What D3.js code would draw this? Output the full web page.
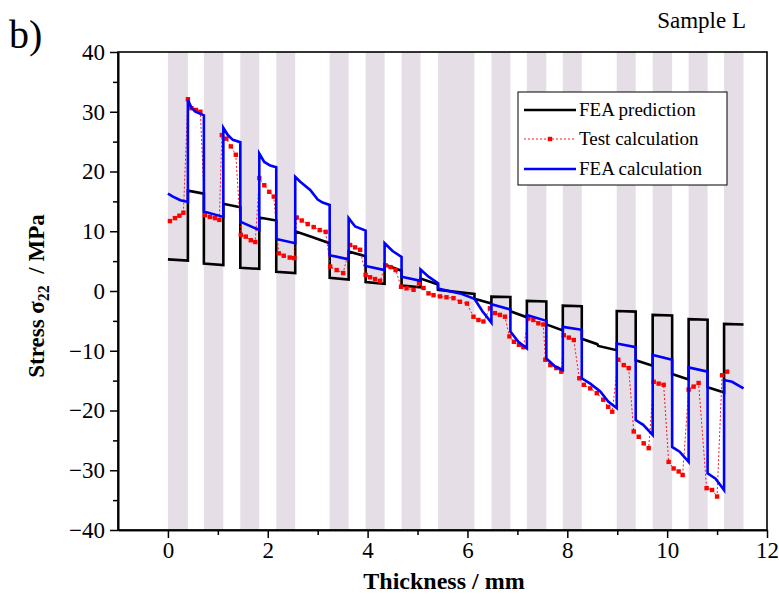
<!DOCTYPE html>
<html><head><meta charset="utf-8">
<script src="https://cdn.jsdelivr.net/npm/d3@7"></script>
<style>
body{margin:0;background:#fff}
svg{display:block}
text{font-family:"Liberation Serif","Times New Roman",serif;fill:#000}
</style>
</head><body>
<svg id="chart" width="779" height="606"></svg>
<script>
// ---- data ----
const bandStart = [0, 0.72, 1.45, 2.17, 3.24, 3.96, 4.68, 5.41, 6.48, 7.19, 7.91, 8.99, 9.71, 10.43, 11.14];
const bandEnd   = [0.40, 1.11, 1.83, 2.55, 3.62, 4.34, 5.06, 6.14, 6.86, 7.58, 8.29, 9.37, 10.10, 10.81, 11.53];

const xTicks = [0, 2, 4, 6, 8, 10, 12];
const xMinorTicks = [1, 3, 5, 7, 9, 11];
const yTicks = [-40, -30, -20, -10, 0, 10, 20, 30, 40];
const yMinorTicks = [-35, -25, -15, -5, 5, 15, 25, 35];

const seriesNames = ["FEA prediction", "Test calculation", "FEA calculation"];

// FEA prediction (black)
const predX = [0,0.40,0.40,0.72,0.72,1.11,1.11,1.45,1.45,1.83,1.83,2.17,2.17,2.55,2.55,2.9,3.24,3.24,3.62,3.62,3.96,3.96,4.34,4.34,4.68,4.68,5.06,5.06,5.41,5.41,6.14,6.14,6.48,6.48,6.86,6.86,7.19,7.19,7.58,7.58,7.91,7.91,8.29,8.29,8.6,8.62,8.99,8.99,9.37,9.37,9.71,9.71,10.10,10.10,10.43,10.43,10.81,10.81,11.14,11.14,11.53];
const predY = [5.3,5.1,16.8,16.3,4.6,4.35,14.6,14.0,3.9,3.7,12.3,11.8,3.2,3.0,10.0,9.0,8.0,2.2,1.9,6.6,5.8,1.5,1.2,4.4,3.4,0.9,0.6,2.1,1.1,0.2,-0.5,-1.3,-2.1,-0.95,-1.0,-3.4,-4.4,-1.65,-1.75,-5.6,-6.6,-2.45,-2.55,-8.0,-8.9,-9.2,-9.9,-3.35,-3.45,-11.6,-12.5,-4.0,-4.1,-13.9,-14.8,-4.7,-4.8,-16.1,-17.0,-5.5,-5.6];

// Test calculation (red, markers)
const testX = [0.04,0.14,0.23,0.31, 0.40,0.47,0.56,0.65, 0.74,0.84,0.94,1.03, 1.08,1.17,1.26,1.36, 1.46,1.56,1.66,1.75, 1.83,1.93,2.03,2.12, 2.22,2.32,2.44,2.53, 2.58,2.68,2.80,2.92,3.04,3.16, 3.25,3.38,3.51, 3.65,3.75,3.85, 3.96,4.05,4.15,4.25, 4.36,4.46,4.56, 4.67,4.78,4.92, 5.03,5.12,5.22,5.32, 5.45,5.58,5.72,5.85,5.99, 6.12,6.22,6.32, 6.45,6.55,6.65,6.75, 6.84,6.93,7.03,7.12, 7.22,7.32,7.42,7.52, 7.56,7.66,7.78,7.88, 7.93,8.03,8.13, 8.24,8.33,8.46,8.59,8.72,8.82,8.90, 9.02,9.13,9.23, 9.33,9.43,9.53,9.63, 9.73,9.83,9.93, 10.03,10.13,10.23,10.31, 10.43,10.53,10.63, 10.79,10.90,11.00, 11.10,11.20];
const testY = [11.7,12.2,12.6,13.1, 32.1,30.6,30.3,30.0, 12.7,12.4,12.2,11.9, 26.1,25.5,24.2,22.8, 9.4,9.1,8.5,8.2, 18.9,17.7,16.6,15.8, 6.3,5.9,5.6,5.5, 12.3,11.8,11.2,10.7,10.2,9.9, 4.1,3.5,3.0, 7.7,7.3,6.9, 2.7,2.3,2.0,1.7, 4.3,4.0,3.5, 0.7,0.45,0.2, 1.3,0.5,-0.4,-0.7, -0.9,-1.05,-1.2,-1.8,-2.1, -4.3,-4.85,-5.1, -2.9,-3.7,-4.0,-4.3, -7.6,-8.5,-9.0,-9.4, -4.6,-4.85,-5.4,-5.6, -11.5,-12.4,-12.9,-13.5, -7.4,-7.8,-8.2, -14.6,-15.7,-16.3,-17.1,-18.2,-19.4,-20.2, -11.5,-12.4,-12.9, -23.5,-24.4,-25.5,-26.3, -15.2,-15.5,-15.7, -28.6,-29.7,-30.2,-30.8, -16.5,-16.0,-15.4, -33.0,-33.3,-34.4, -14.1,-13.5];

// FEA calculation (blue)
const calcX = [0,0.1,0.25,0.40,0.40,0.47,0.55,0.72,0.72,1.11,1.11,1.2,1.3,1.45,1.45,1.83,1.83,1.93,2.05,2.17,2.17,2.55,2.55,2.65,2.85,3.0,3.1,3.24,3.24,3.62,3.62,3.75,3.96,3.96,4.34,4.34,4.5,4.68,4.68,5.06,5.06,5.22,5.41,5.41,5.85,6.14,6.3,6.48,6.48,6.86,6.86,7.02,7.19,7.19,7.58,7.58,7.75,7.91,7.91,8.29,8.29,8.46,8.66,8.82,8.99,8.99,9.37,9.37,9.52,9.71,9.71,10.10,10.10,10.25,10.43,10.43,10.81,10.81,10.97,11.14,11.14,11.3,11.53];
const calcY = [16.3,15.8,15.2,14.9,32.0,30.7,30.0,29.4,13.3,12.4,27.3,26.1,25.3,24.9,11.6,10.2,23.0,21.6,21.0,20.7,8.7,8.0,19.1,18.3,16.9,15.3,14.8,14.4,6.0,5.3,12.2,10.8,10.1,4.2,3.5,8.0,6.7,5.7,2.4,1.7,3.6,2.4,1.3,0.4,-0.4,-1.3,-3.4,-5.3,-2.2,-3.1,-6.8,-8.5,-9.6,-4.0,-5.0,-11.3,-12.6,-13.2,-6.0,-6.5,-14.6,-15.5,-16.8,-18.5,-19.6,-8.8,-9.4,-21.6,-22.4,-24.1,-10.7,-11.5,-26.1,-26.9,-28.6,-12.8,-13.5,-30.5,-31.4,-33.3,-14.9,-15.2,-16.3];

// ---- layout ----
const m = {left: 118, right: 767, top: 52, bottom: 530};
const svg = d3.select("#chart");

const x = d3.scaleLinear().domain([-1, 12]).range([m.left, m.right]);
const y = d3.scaleLinear().domain([-40, 40]).range([m.bottom, m.top]);

// bands
svg.append("g").selectAll("rect").data(bandStart).join("rect")
  .attr("x", (d) => x(d))
  .attr("width", (d, i) => x(bandEnd[i]) - x(d))
  .attr("y", m.top)
  .attr("height", m.bottom - m.top)
  .attr("fill", "#e6dee7");

const zip = (xs, ys) => xs.map((v, i) => [v, ys[i]]);
const line = d3.line().x(d => x(d[0])).y(d => y(d[1]));

svg.append("clipPath").attr("id", "clip").append("rect")
  .attr("x", m.left).attr("y", m.top).attr("width", m.right - m.left).attr("height", m.bottom - m.top);
const plot = svg.append("g").attr("clip-path", "url(#clip)");

// black
plot.append("path").datum(zip(predX, predY)).attr("d", line)
  .attr("fill", "none").attr("stroke", "#000").attr("stroke-width", 2.6).attr("stroke-linejoin", "miter");

// red
const testData = zip(testX, testY);
plot.append("path").datum(testData).attr("d", line)
  .attr("fill", "none").attr("stroke", "#ff0000").attr("stroke-width", 0.9).attr("stroke-dasharray", "2,2");
plot.append("g").selectAll("rect").data(testData).join("rect")
  .attr("x", d => x(d[0]) - 2.2).attr("y", d => y(d[1]) - 2.2)
  .attr("width", 4.4).attr("height", 4.4).attr("fill", "#ff0000");

// blue
plot.append("path").datum(zip(calcX, calcY)).attr("d", line)
  .attr("fill", "none").attr("stroke", "#0000ff").attr("stroke-width", 2.6).attr("stroke-linejoin", "miter");

// frame
svg.append("rect").attr("x", m.left).attr("y", m.top)
  .attr("width", m.right - m.left).attr("height", m.bottom - m.top)
  .attr("fill", "none").attr("stroke", "#000").attr("stroke-width", 1.6);

// axes
svg.append("g").attr("transform", `translate(0,${m.bottom})`)
  .call(d3.axisBottom(x).tickValues(xTicks).tickSize(8).tickSizeOuter(0).tickPadding(4));
svg.append("g").attr("transform", `translate(0,${m.bottom})`)
  .call(d3.axisBottom(x).tickValues(xMinorTicks).tickSize(5).tickSizeOuter(0).tickFormat(""));
svg.append("g").attr("transform", `translate(${m.left},0)`)
  .call(d3.axisLeft(y).tickValues(yTicks).tickSize(8).tickSizeOuter(0).tickPadding(5));
svg.append("g").attr("transform", `translate(${m.left},0)`)
  .call(d3.axisLeft(y).tickValues(yMinorTicks).tickSize(5).tickSizeOuter(0).tickFormat(""));

svg.selectAll(".domain").attr("stroke", "#000").attr("stroke-width", 1.6);
svg.selectAll(".tick line").attr("stroke", "#000").attr("stroke-width", 1.5);
svg.selectAll(".tick text").attr("font-family", "Liberation Serif").attr("font-size", 23).attr("fill", "#000");

// axis titles
svg.append("text").attr("x", 444).attr("y", 589).attr("text-anchor", "middle")
  .attr("font-size", 24).attr("font-weight", "bold").text("Thickness / mm");

const yl = svg.append("text").attr("transform", "translate(44,296) rotate(-90)")
  .attr("text-anchor", "middle").attr("font-size", 23).attr("font-weight", "bold");
yl.append("tspan").text("Stress σ");
yl.append("tspan").attr("font-size", 16).attr("dy", 5).text("22");
yl.append("tspan").attr("dy", -5).text("  / MPa").attr("xml:space", "preserve");

// panel label and sample label
svg.append("text").attr("x", 9).attr("y", 48).attr("font-size", 40).text("b)");
svg.append("text").attr("x", 746).attr("y", 28).attr("text-anchor", "end").attr("font-size", 23).text("Sample L");

// legend
const lg = svg.append("g");
lg.append("rect").attr("x", 518).attr("y", 92).attr("width", 209).attr("height", 93)
  .attr("fill", "#fff").attr("stroke", "#000").attr("stroke-width", 1);
const rowsY = [110, 139, 169];
const lx0 = 524, lx1 = 576;
lg.append("line").attr("x1", lx0).attr("x2", lx1).attr("y1", rowsY[0]).attr("y2", rowsY[0])
  .attr("stroke", "#000").attr("stroke-width", 2.6);
lg.append("line").attr("x1", lx0).attr("x2", lx1).attr("y1", rowsY[1]).attr("y2", rowsY[1])
  .attr("stroke", "#ff0000").attr("stroke-width", 0.9).attr("stroke-dasharray", "2,2");
lg.append("rect").attr("x", (lx0 + lx1) / 2 - 2.2).attr("y", rowsY[1] - 2.2).attr("width", 4.4).attr("height", 4.4).attr("fill", "#ff0000");
lg.append("line").attr("x1", lx0).attr("x2", lx1).attr("y1", rowsY[2]).attr("y2", rowsY[2])
  .attr("stroke", "#0000ff").attr("stroke-width", 2.6);
lg.selectAll("text.lt").data(seriesNames).join("text").attr("class", "lt")
  .attr("x", 579).attr("y", (d, i) => rowsY[i] + 6).attr("font-size", 19).text(d => d);
</script>
</body></html>
